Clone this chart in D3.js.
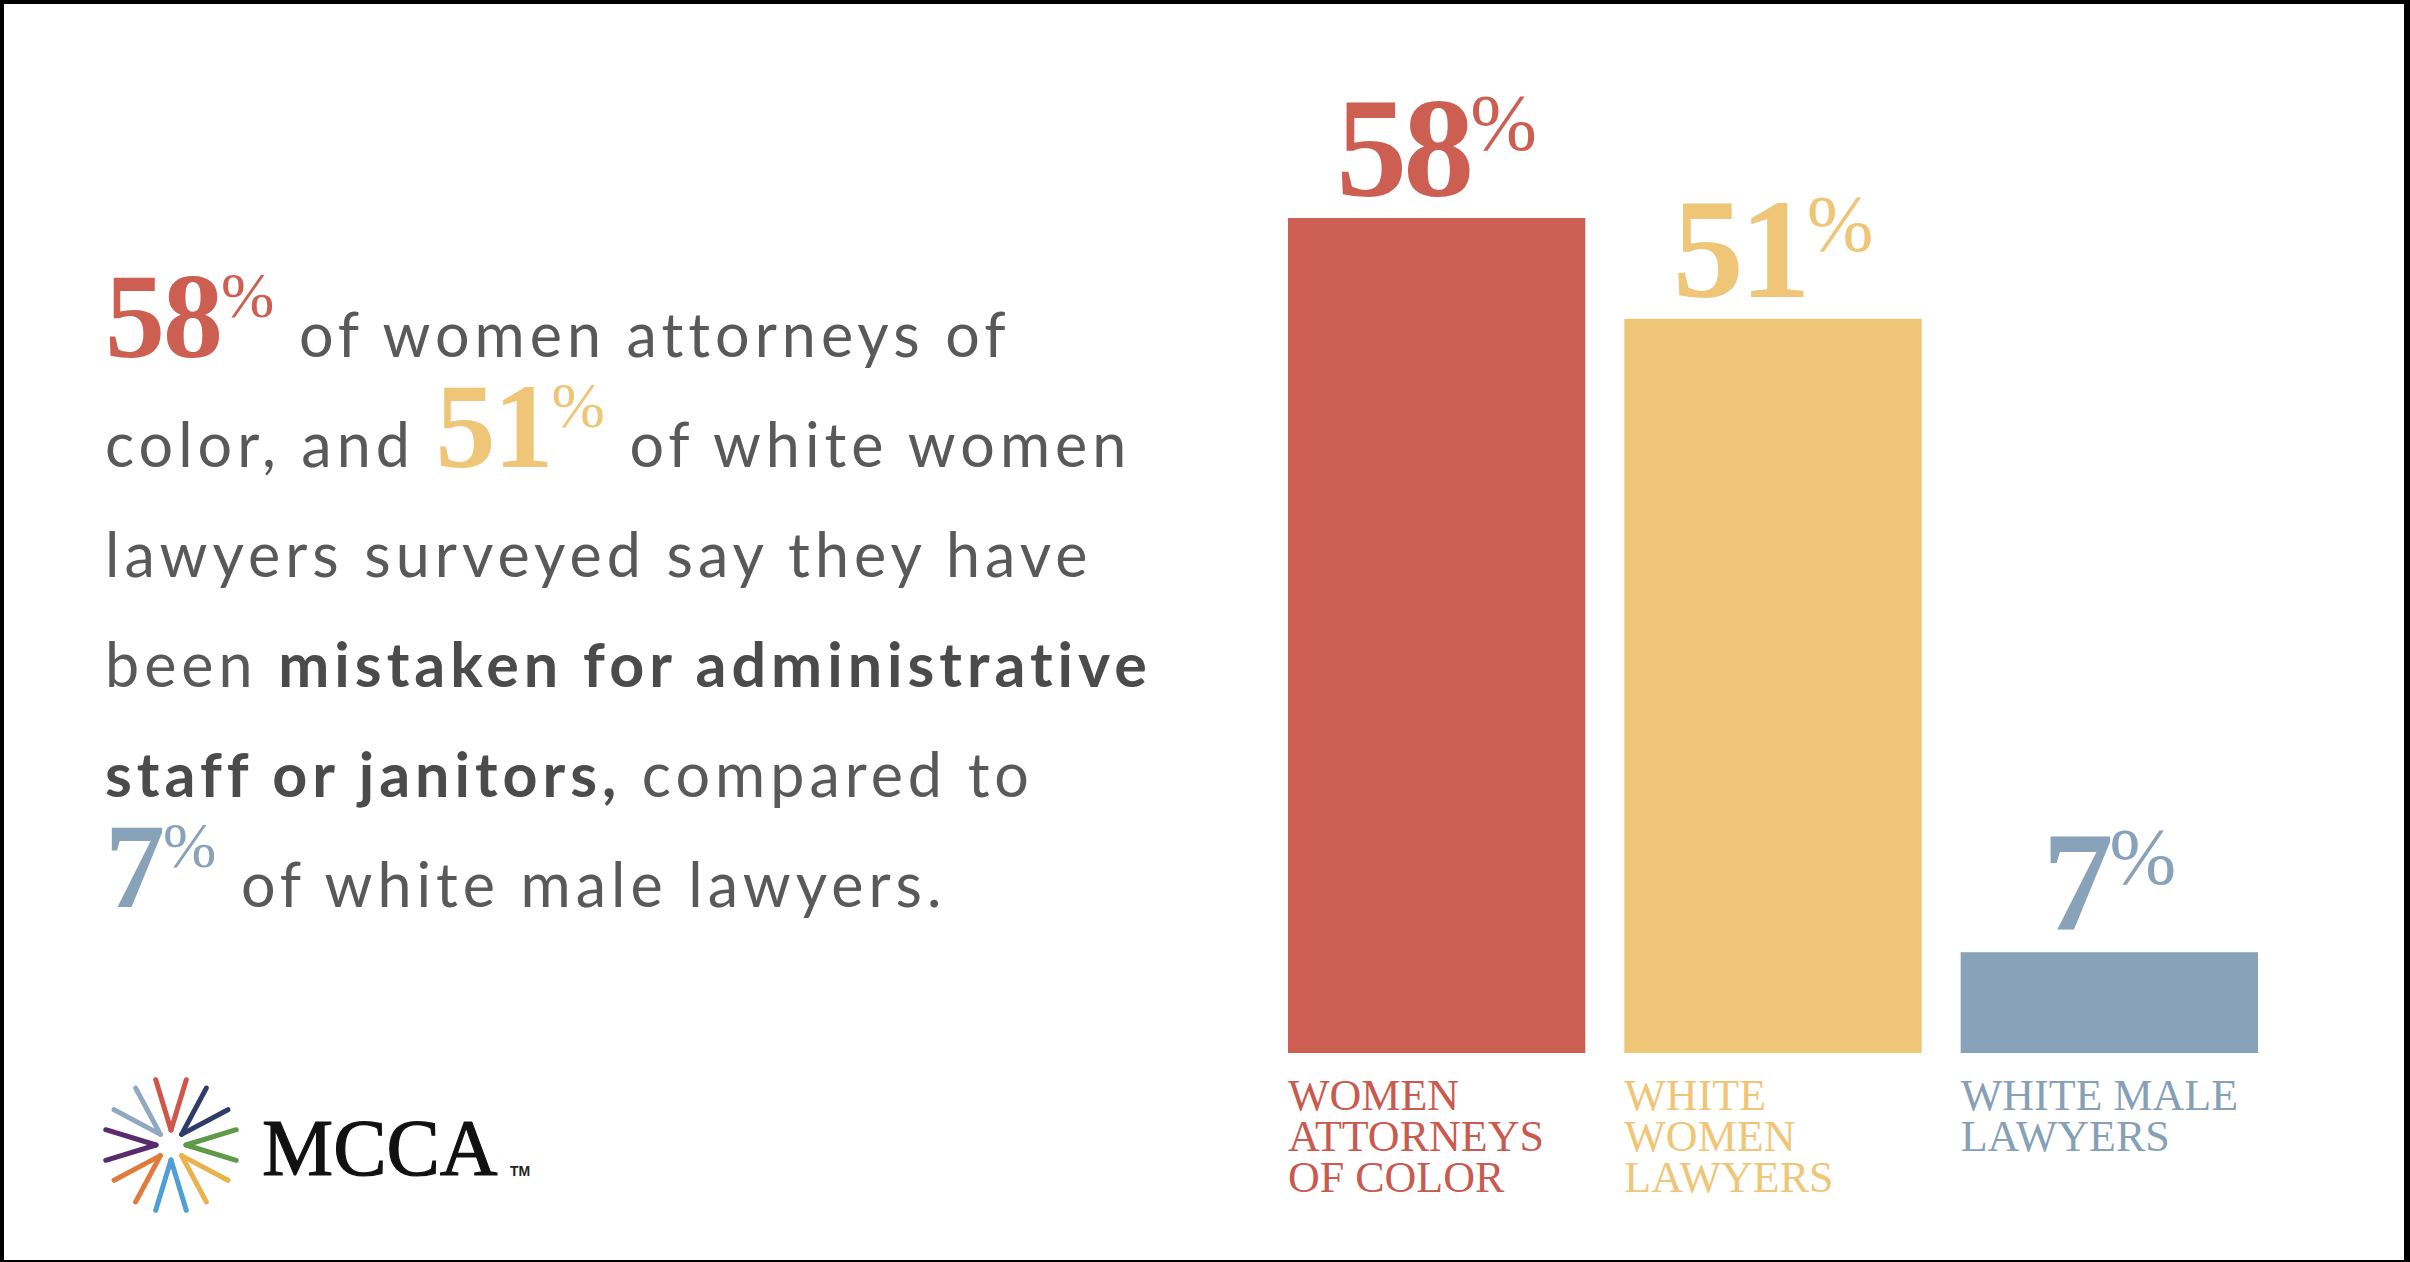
<!DOCTYPE html>
<html>
<head>
<meta charset="utf-8">
<script src="https://cdn.jsdelivr.net/npm/d3@7"></script>
<style>
body { margin: 0; background: #fff; }
svg { display: block; }
text { white-space: pre; }
</style>
</head>
<body>
<div id="contenedor"></div>
<script>
// datos
categorias = [["WOMEN", "ATTORNEYS", "OF COLOR"], ["WHITE", "WOMEN", "LAWYERS"], ["WHITE MALE", "LAWYERS"]]
valores = [58, 51, 7]
colores = ["#cd5f52", "#efc677", "#88a2ba"]
coloresTexto = ["#c95a4f", "#efc677", "#86a0b6"]

// frase de la izquierda: {v: indice del valor} o {t: texto, b: negrita}
frase = [
    [{v: 0}, {t: " of women attorneys of"}],
    [{t: "color, and "}, {v: 1}, {t: " of white women"}],
    [{t: "lawyers surveyed say they have"}],
    [{t: "been "}, {t: "mistaken for administrative", b: true}],
    [{t: "staff or janitors,", b: true}, {t: " compared to"}],
    [{v: 2}, {t: " of white male lawyers."}]
]

// logo: colores de las puntas, empezando arriba y en sentido horario
coloresLogo = ["#d0564a", "#2e3d68", "#5f9a48", "#e9b24c", "#4f9fd6", "#e07b3c", "#5a2b6c", "#90a9c1"]

ancho = 2410
alto = 1262

svg = d3.select("#contenedor")
    .append("svg")
    .attr("width", ancho)
    .attr("height", alto)

svg.append("rect")
    .attr("width", ancho)
    .attr("height", alto)
    .attr("fill", "#fff")

// marco negro
svg.append("rect").attr("x", 0).attr("y", 0).attr("width", ancho).attr("height", 4).attr("fill", "#000")
svg.append("rect").attr("x", 0).attr("y", 0).attr("width", 4).attr("height", alto).attr("fill", "#000")
svg.append("rect").attr("x", ancho - 6).attr("y", 0).attr("width", 6).attr("height", alto).attr("fill", "#000")
svg.append("rect").attr("x", 0).attr("y", alto - 2).attr("width", ancho).attr("height", 2).attr("fill", "#000")

// escalas
escalaX = d3.scaleBand()
    .domain(d3.range(valores.length))
    .range([1288, 2258])
    .paddingInner(0.116)
    .paddingOuter(0)

escalaY = d3.scaleLinear()
    .domain([0, 58])
    .range([1053, 218])

barras = svg.append("g")

barras.selectAll("rect")
    .data(valores)
    .enter()
    .append("rect")
    .attr("x", function(d, i) { return escalaX(i) })
    .attr("y", function(d) { return escalaY(d) })
    .attr("width", escalaX.bandwidth())
    .attr("height", function(d) { return escalaY(0) - escalaY(d) })
    .attr("fill", function(d, i) { return colores[i] })

// numeros encima de las barras
etiquetas = barras.selectAll("text.valor")
    .data(valores)
    .enter()
    .append("text")
    .attr("class", "valor")
    .attr("x", function(d, i) { return escalaX(i) + escalaX.bandwidth() / 2 })
    .attr("y", function(d) { return escalaY(d) - 22 })
    .attr("text-anchor", "middle")
    .attr("font-family", "Liberation Serif")
    .attr("font-weight", "bold")
    .attr("fill", function(d, i) { return colores[i] })

etiquetas.append("tspan")
    .attr("font-size", 142)
    .attr("letter-spacing", -4)
    .text(function(d) { return d })

etiquetas.append("tspan")
    .attr("font-size", 80)
    .attr("font-weight", "normal")
    .attr("dy", -46)
    .text("%")

// nombres de categoria
nombres = barras.selectAll("text.cat")
    .data(categorias)
    .enter()
    .append("text")
    .attr("class", "cat")
    .attr("x", function(d, i) { return escalaX(i) })
    .attr("y", 1110)
    .attr("font-family", "Liberation Serif")
    .attr("font-size", 44)
    .attr("fill", function(d, i) { return coloresTexto[i] })

nombres.selectAll("tspan")
    .data(function(d) { return d })
    .enter()
    .append("tspan")
    .attr("x", function() { return d3.select(this.parentNode).attr("x") })
    .attr("dy", function(d, j) { return j == 0 ? 0 : 41 })
    .text(function(d) { return d })

// parrafo
parrafo = svg.append("g")

lineas = parrafo.selectAll("text")
    .data(frase)
    .enter()
    .append("text")
    .attr("x", 105)
    .attr("y", function(d, i) { return 357 + i * 110 })
    .attr("font-family", "Lato")
    .attr("font-size", 61)
    .attr("letter-spacing", 5)
    .attr("fill", "#595959")

lineas.each(function(linea) {
    var t = d3.select(this)
    var bajar = 0
    var trasNumero = false
    linea.forEach(function(p) {
        if (p.v !== undefined) {
            t.append("tspan")
                .attr("font-family", "Liberation Serif")
                .attr("font-weight", "bold")
                .attr("font-size", 120)
                .attr("letter-spacing", -2)
                .attr("fill", colores[p.v])
                .text(valores[p.v])
            t.append("tspan")
                .attr("font-family", "Liberation Serif")
                .attr("font-size", 64)
                .attr("letter-spacing", 0)
                .attr("dy", -40)
                .attr("fill", colores[p.v])
                .text("%")
            bajar = 40
            trasNumero = true
        } else {
            t.append("tspan")
                .attr("font-weight", p.b ? "bold" : "normal")
                .attr("fill", p.b ? "#4b4b4b" : "#595959")
                .attr("dy", bajar)
                .attr("dx", trasNumero ? 4 : 0)
                .text(p.t)
            bajar = 0
            trasNumero = false
        }
    })
})

// logo
logo = svg.append("g").attr("transform", "translate(171,1145)")

puntas = []
coloresLogo.forEach(function(c, k) {
    var a = k * Math.PI / 4
    ;[-1, 1].forEach(function(s) {
        var b = a + s * 0.23
        puntas.push({
            color: c,
            x1: 67 * Math.sin(b), y1: -67 * Math.cos(b),
            x2: 15 * Math.sin(a), y2: -15 * Math.cos(a)
        })
    })
})

logo.selectAll("line")
    .data(puntas)
    .enter()
    .append("line")
    .attr("x1", function(d) { return d.x1 })
    .attr("y1", function(d) { return d.y1 })
    .attr("x2", function(d) { return d.x2 })
    .attr("y2", function(d) { return d.y2 })
    .attr("stroke", function(d) { return d.color })
    .attr("stroke-width", 5)
    .attr("stroke-linecap", "round")

svg.append("text")
    .attr("x", 262)
    .attr("y", 1175)
    .attr("font-family", "Liberation Serif")
    .attr("font-size", 80)
    .attr("fill", "#111")
    .attr("stroke", "#111")
    .attr("stroke-width", 1.2)
    .text("MCCA")

svg.append("text")
    .attr("x", 510)
    .attr("y", 1176)
    .attr("font-family", "Liberation Sans")
    .attr("font-weight", "bold")
    .attr("font-size", 14)
    .attr("fill", "#222")
    .text("TM")
</script>
</body>
</html>
